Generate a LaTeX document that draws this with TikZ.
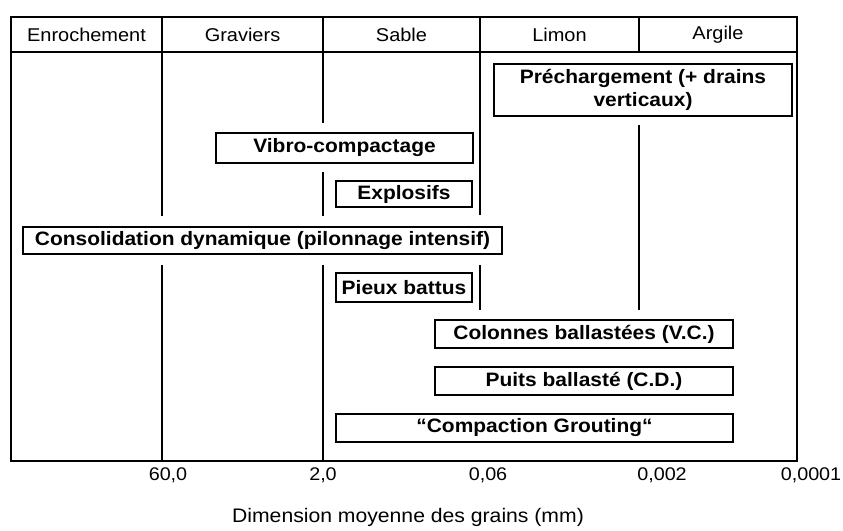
\documentclass[tikz,border=0pt]{standalone}
\usepackage{fontspec}
\setmainfont{Liberation Sans}[FakeStretch=1.08]
\begin{document}
\begin{tikzpicture}[x=1pt,y=-1pt,
  grid/.style={line width=1.6pt},
  box/.style={draw, line width=1.5pt, inner sep=0pt, align=center,
    font=\fontsize{19.4}{23}\selectfont\bfseries},
  hdr/.style={font=\fontsize{18.5}{22}\selectfont},
  ticklab/.style={font=\fontsize{18.3}{22}\selectfont},
  axtitle/.style={font=\fontsize{19.6}{23}\selectfont}]
\useasboundingbox (0,0) rectangle (843,530);
% frame
\draw[grid] (11,17) rectangle (797,461);
\draw[grid] (11,52) -- (797,52);
% header dividers
\draw[grid] (639,17) -- (639,52);
% vertical lines (interrupted by the boxes)
\draw[grid] (162,17) -- (162,216) (162,265) -- (162,461);
\draw[grid] (323,17) -- (323,123) (323,172) -- (323,216) (323,265) -- (323,461);
\draw[grid] (480,17) -- (480,215) (480,265) -- (480,310);
\draw[grid] (639,125) -- (639,310);
% header
\node[hdr] (h1) at (86.5,35) {Enrochement};
\node[hdr] (h2) at (242.5,35) {Graviers};
\node[hdr] (h3) at (401.5,35) {Sable};
\node[hdr] (h4) at (559.5,35) {Limon};
\node[hdr] (h5) at (718,35) {Argile};
% boxes
\node[box, minimum width=298, minimum height=52] (prech) at (643,90) {Préchargement (+ drains\\verticaux)};
\node[box, minimum width=257, minimum height=30] (vibro) at (344.5,148) {Vibro-compactage};
\node[box, minimum width=136, minimum height=26] (explo) at (404,194) {Explosifs};
\node[box, minimum width=479, minimum height=27] (conso) at (262.5,240.5) {Consolidation dynamique (pilonnage intensif)};
\node[box, minimum width=136, minimum height=29] (pieux) at (404,287.5) {Pieux battus};
\node[box, minimum width=298, minimum height=28] (colon) at (584,334) {Colonnes ballastées (V.C.)};
\node[box, minimum width=298, minimum height=28] (puits) at (584,381) {Puits ballasté (C.D.)};
\node[box, minimum width=397, minimum height=28] (grout) at (534.5,428) {“Compaction Grouting“};
% tick labels
\node[ticklab] (t1) at (168,475) {60,0};
\node[ticklab] (t2) at (323,475) {2,0};
\node[ticklab] (t3) at (488,475) {0,06};
\node[ticklab] (t4) at (662,475) {0,002};
\node[ticklab] (t5) at (811,475) {0,0001};
\node[axtitle] (ax) at (408,517) {Dimension moyenne des grains (mm)};
\end{tikzpicture}
\end{document}
